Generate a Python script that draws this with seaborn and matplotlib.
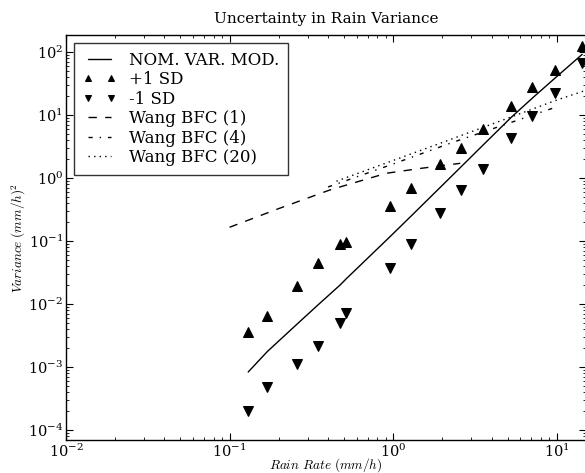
import numpy as np
import pandas as pd
import seaborn as sns
from matplotlib import pyplot as plt

# rain rates shared by the nominal model and the +/- 1 SD markers
rain = [0.130, 0.170, 0.259, 0.348, 0.474, 0.516, 0.96, 1.29, 1.94, 2.61, 3.55, 5.27, 7.08, 9.8, 14.3]
nom_var = [0.00083, 0.00175, 0.0048, 0.0097, 0.020, 0.025, 0.118, 0.25, 0.71, 1.52, 3.35, 9.2, 18.5, 39, 92]
plus_sd = [0.0036, 0.0065, 0.0193, 0.0448, 0.0896, 0.0964, 0.36, 0.69, 1.67, 3.0, 6.0, 13.9, 27.8, 51.8, 124]
minus_sd = [0.0002, 0.00048, 0.00112, 0.00215, 0.005, 0.0072, 0.037, 0.0896, 0.278, 0.645, 1.39, 4.3, 9.6, 22.3, 66.8]

# Wang BFC curves
wang1_x = [0.1, 0.2, 0.41, 0.6, 0.91, 1.5, 2.57]
wang1_y = [0.165, 0.327, 0.645, 0.865, 1.19, 1.43, 1.71]
wang4_x = [0.40, 1.0, 2.23, 9.5]
wang4_y = [0.72, 1.67, 3.56, 12.9]
wang20_x = [0.45, 1.94, 10.0, 16.0]
wang20_y = [0.89, 3.56, 17.3, 26.0]

x_major = [1e-2, 1e-1, 1e0, 1e1]
y_major = [1e-4, 1e-3, 1e-2, 1e-1, 1e0, 1e1, 1e2]

sns.set_style("ticks")
plt.rcParams['font.family'] = ['DejaVu Serif']
plt.rcParams['mathtext.fontset'] = 'cm'
plt.rcParams['xtick.direction'] = 'in'
plt.rcParams['ytick.direction'] = 'in'
plt.rcParams['xtick.top'] = True
plt.rcParams['ytick.right'] = True
for k in ['text.color', 'axes.labelcolor', 'xtick.color', 'ytick.color', 'axes.edgecolor']:
    plt.rcParams[k] = 'k'
# old-style dash patterns
plt.rcParams['lines.dashed_pattern'] = [6, 6]
plt.rcParams['lines.dashdot_pattern'] = [3, 5, 1, 5]
plt.rcParams['lines.dotted_pattern'] = [1, 3]
plt.rcParams['lines.scale_dashes'] = False

fig = plt.figure(figsize=(5.85, 4.73), dpi=100)
ax = fig.add_axes([0.1128, 0.0698, 0.889, 0.856])

sns.lineplot(x=rain, y=nom_var, color='k', lw=1.0, estimator=None, sort=False, ax=ax, label='NOM. VAR. MOD.')
sns.lineplot(x=rain, y=plus_sd, color='k', marker='^', linestyle='', markersize=6.5, mec='k',
             estimator=None, sort=False, ax=ax, label='+1 SD')
sns.lineplot(x=rain, y=minus_sd, color='k', marker='v', linestyle='', markersize=6.5, mec='k',
             estimator=None, sort=False, ax=ax, label='-1 SD')
sns.lineplot(x=wang1_x, y=wang1_y, color='k', lw=1.0, linestyle='--', estimator=None, sort=False, ax=ax,
             label='Wang BFC (1)')
sns.lineplot(x=wang4_x, y=wang4_y, color='k', lw=1.0, linestyle='-.', estimator=None, sort=False, ax=ax,
             label='Wang BFC (4)')
sns.lineplot(x=wang20_x, y=wang20_y, color='k', lw=1.0, linestyle=':', estimator=None, sort=False, ax=ax,
             label='Wang BFC (20)')

ax.set_xscale('log')
ax.set_yscale('log')
ax.set_xticks(x_major)
ax.set_yticks(y_major)
ax.set_xlim(0.01, 15.1)
ax.set_ylim(6.9e-5, 186)

for s in ax.spines.values():
    s.set_linewidth(1.0)
ax.tick_params(which='major', length=5, width=0.8, labelsize=10.5, pad=2)
ax.tick_params(which='minor', length=2.5, width=0.6)

ax.set_title('Uncertainty in Rain Variance', fontsize=11, pad=9)
ax.set_xlabel(r'$Rain\ Rate\ (mm/h)$', fontsize=9.5, labelpad=-3)
ax.set_ylabel(r'$Variance\ (mm/h)^2$', fontsize=9.5, labelpad=0)

leg = ax.legend(loc='upper left', numpoints=2, fontsize=12, frameon=True, fancybox=False, markerscale=0.75,
                borderpad=0.5, labelspacing=0.15, handlelength=2.0, borderaxespad=0.5)
leg.get_frame().set_edgecolor('k')
leg.get_frame().set_linewidth(1.0)

fig.savefig('out.png', dpi=100)
